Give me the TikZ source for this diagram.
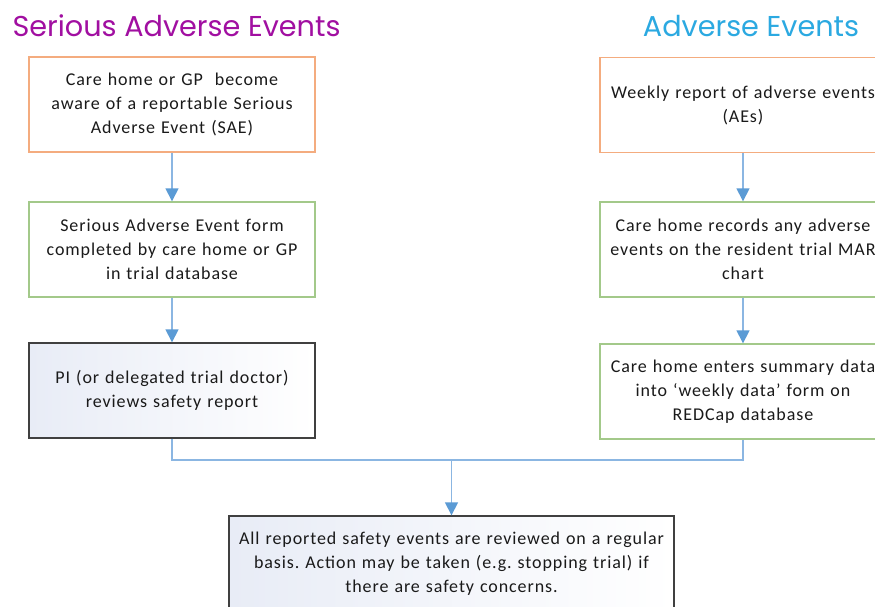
\documentclass[tikz,border=0pt]{standalone}
\usepackage{fontspec}
\setmainfont{Carlito}[LetterSpace=5]
\newfontfamily\titlefont{Poppins}
\usetikzlibrary{arrows.meta}
\definecolor{saepurple}{HTML}{A10FA1}
\definecolor{aeblue}{HTML}{2BA9E1}
\definecolor{boxorange}{HTML}{F4AC7F}
\definecolor{boxgreen}{HTML}{A3C98A}
\definecolor{boxgray}{HTML}{404040}
\definecolor{linkline}{HTML}{8BB6E2}
\definecolor{linkdark}{HTML}{5B9BD5}
\definecolor{shadeblue}{HTML}{E8ECF6}
\definecolor{textdark}{HTML}{1A1A1A}
\begin{document}
\frenchspacing
\begin{tikzpicture}[x=1pt,y=-1pt,
  flowbox/.style={rectangle, minimum width=286pt, minimum height=95pt, inner sep=0pt,
    text width=280pt, align=center, text=textdark,
    font=\fontsize{18}{24}\selectfont, line width=1.4pt},
  orangebox/.style={flowbox, draw=boxorange, fill=white},
  greenbox/.style={flowbox, draw=boxgreen, fill=white},
  graybox/.style={flowbox, draw=boxgray, left color=shadeblue, right color=white},
  link/.style={draw=linkline, line width=1.5pt},
  linkarrow/.style={link, -{Triangle[length=13pt,width=13pt,color=linkdark]}},
  titletext/.style={font=\titlefont\fontsize{28.7}{32}\selectfont, inner sep=0pt, anchor=base}
]
\clip (0,0) rectangle (875,606);
\fill[white] (0,0) rectangle (875,606);

\node[titletext, text=saepurple] (t1) at (176.5,36) {Serious Adverse Events};
\node[titletext, text=aeblue] (t2) at (751,36) {Adverse Events};

\node[orangebox] (l1) at (172,104.5) {Care home or GP\ \ become\\aware of a reportable Serious\\Adverse Event (SAE)};
\node[greenbox] (l2) at (172,249.5) {Serious Adverse Event form\\completed by care home or GP\\in trial database};
\node[graybox] (l3) at (172,390.5) {PI (or delegated trial doctor)\\reviews safety report};

\node[orangebox] (r1) at (743,105) {Weekly report of adverse events\\(AEs)};
\node[greenbox] (r2) at (743,249.5) {Care home records any adverse\\events on the resident trial MAR\\chart};
\node[greenbox] (r3) at (743,391.5) {Care home enters summary data\\into ‘weekly data’ form on\\REDCap database};

\node[graybox, minimum width=445pt, text width=440pt, minimum height=96pt] (bot) at (451.5,564) {All reported safety events are reviewed on a regular\\basis. Action may be taken (e.g. stopping trial) if\\there are safety concerns.};

\coordinate (m) at (451.5,460);

\draw[linkarrow] (l1) -- (l2);
\draw[linkarrow] (l2) -- (l3);
\draw[linkarrow] (r1) -- (r2);
\draw[linkarrow] (r2) -- (r3);
\draw[link] (l3.south) |- (m) -| (r3.south);
\draw[linkarrow] (m) -- (bot.north);
\end{tikzpicture}
\end{document}
